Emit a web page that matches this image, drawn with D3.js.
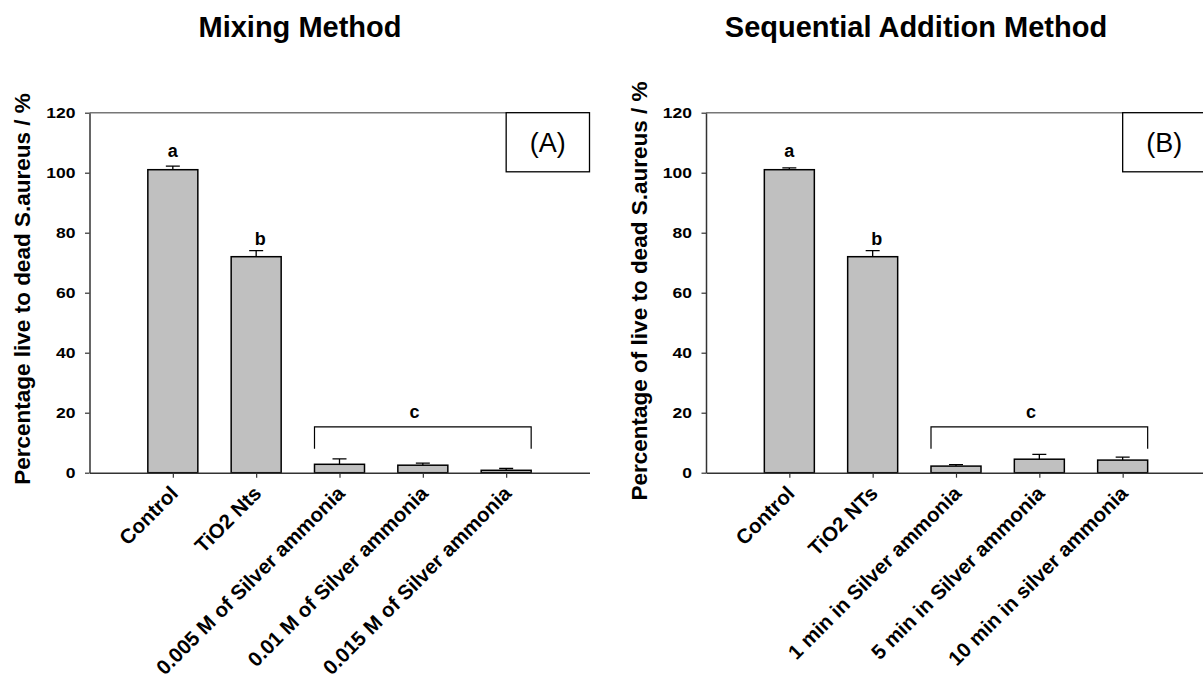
<!DOCTYPE html>
<html>
<head>
<meta charset="utf-8">
<script src="https://cdn.jsdelivr.net/npm/d3@7"></script>
<style>
  body { margin: 0; background: #fff; }
  svg { display: block; font-family: Arial, "Liberation Sans", sans-serif; }
</style>
</head>
<body>
<div id="chart"></div>
<script>
// data
var yTicks = [0, 20, 40, 60, 80, 100, 120];

var mixingTitle = "Mixing Method";
var mixingYLabel = "Percentage live to dead S.aureus / %";
var mixingCats = ["Control", "TiO2 Nts", "0.005 M of Silver ammonia", "0.01 M of Silver ammonia", "0.015 M of Silver ammonia"];
var mixingMeans = [101, 72, 2.8, 2.5, 0.8];
var mixingErrors = [1.2, 2.0, 1.8, 0.7, 0.6];

var seqTitle = "Sequential Addition Method";
var seqYLabel = "Percentage of live to dead S.aureus / %";
var seqCats = ["Control", "TiO2 NTs", "1 min in Silver ammonia", "5 min in Silver ammonia", "10 min in silver ammonia"];
var seqMeans = [101, 72, 2.2, 4.5, 4.2];
var seqErrors = [0.6, 2.0, 0.5, 1.6, 1.0];

var groupLetters = ["a", "b", "c"];

var svgWidth = 1203;
var svgHeight = 678;
var chartWidth = 500;
var chartHeight = 360;

var svg = d3.select("#chart").append("svg")
    .attr("width", svgWidth)
    .attr("height", svgHeight);

function drawPanel(opts) {
    var g = svg.append("g")
        .attr("transform", `translate(${opts.left},${opts.top})`);

    var x = d3.scaleLinear().domain([0, 6]).range([0, chartWidth]);
    var y = d3.scaleLinear().domain([0, 120]).range([chartHeight, 0]);
    var bw = x(0.6) - x(0);

    // title
    svg.append("text")
        .attr("x", opts.titleX)
        .attr("y", 36.5)
        .attr("text-anchor", "middle")
        .attr("font-size", 29)
        .attr("font-weight", "bold")
        .text(opts.title);

    // y label
    svg.append("text")
        .attr("transform", `translate(${opts.yLabelX},${opts.yLabelY}) rotate(-90)`)
        .attr("text-anchor", "middle")
        .attr("font-size", 22.5)
        .attr("font-weight", "bold")
        .text(opts.yLabel);

    // top frame line
    g.append("line")
        .attr("x1", x(0)).attr("x2", x(6))
        .attr("y1", y(120)).attr("y2", y(120))
        .attr("stroke", "#777").attr("stroke-width", 1.5);

    // bars
    var idx = d3.range(opts.means.length);
    g.selectAll(".bar")
        .data(idx)
        .enter()
        .append("rect")
        .attr("x", i => x(i + 1) - bw / 2)
        .attr("y", i => y(opts.means[i]))
        .attr("width", bw)
        .attr("height", i => y(0) - y(opts.means[i]))
        .attr("fill", "#c0c0c0")
        .attr("stroke", "#000")
        .attr("stroke-width", 1.5);

    // error bars (upper only)
    g.selectAll(".err")
        .data(idx)
        .enter()
        .append("path")
        .attr("d", i => {
            var cx = x(i + 1), y0 = y(opts.means[i]), y1 = y(opts.means[i] + opts.errors[i]);
            return `M${cx},${y0}V${y1}M${cx - 7},${y1}H${cx + 7}`;
        })
        .attr("fill", "none")
        .attr("stroke", "#000")
        .attr("stroke-width", 1.3);

    // x axis
    var bottomAxis = d3.axisBottom(x)
        .tickValues([1, 2, 3, 4, 5])
        .tickSize(5)
        .tickSizeOuter(0)
        .tickFormat((d, i) => opts.cats[i]);
    var xAxis = g.append("g")
        .attr("transform", `translate(0,${chartHeight})`)
        .call(bottomAxis);
    xAxis.select(".domain").attr("stroke", "#333").attr("stroke-width", 1.5);
    xAxis.selectAll(".tick line").attr("stroke", "#333").attr("stroke-width", 1.2);
    xAxis.selectAll(".tick text")
        .attr("x", 0).attr("y", 0).attr("dy", 0)
        .attr("text-anchor", "end")
        .attr("transform", "translate(6,22) rotate(-45)")
        .attr("fill", "#000")
        .attr("font-size", 20.5)
        .attr("font-weight", "bold")
        .attr("font-family", "Arial, 'Liberation Sans', sans-serif");

    // y axis, labels drawn separately (the figure draws them wide)
    var leftAxis = d3.axisLeft(y)
        .tickValues(yTicks)
        .tickSize(4.5)
        .tickSizeOuter(0)
        .tickFormat("");
    var yAxis = g.append("g").call(leftAxis);
    yAxis.select(".domain").attr("stroke", "#333").attr("stroke-width", 1.5);
    yAxis.selectAll(".tick line").attr("stroke", "#333").attr("stroke-width", 1.2);

    g.selectAll(".ylab")
        .data(yTicks)
        .enter()
        .append("text")
        .attr("transform", d => `translate(-14,${y(d) + 5}) scale(1.25,1)`)
        .attr("text-anchor", "end")
        .attr("font-size", 14)
        .attr("font-weight", "bold")
        .attr("fill", "#000")
        .text(d => d);

    // bracket for group c
    g.append("path")
        .attr("d", `M${x(2.7)},${y(8)}V${y(15.3)}H${x(5.3)}V${y(8)}`)
        .attr("fill", "none")
        .attr("stroke", "#000")
        .attr("stroke-width", 1.2);

    // significance letters
    var letterPos = [[1.0, 105.3], [2.05, 75.9], [3.9, 18.2]];
    g.selectAll(".letter")
        .data(groupLetters)
        .enter()
        .append("text")
        .attr("x", (d, i) => x(letterPos[i][0]))
        .attr("y", (d, i) => y(letterPos[i][1]))
        .attr("text-anchor", "middle")
        .attr("font-size", 18)
        .attr("font-weight", "bold")
        .text(d => d);

    // panel tag box
    g.append("rect")
        .attr("x", x(5))
        .attr("y", y(120))
        .attr("width", x(6) - x(5))
        .attr("height", y(100.3) - y(120))
        .attr("fill", "#fff")
        .attr("stroke", "#000")
        .attr("stroke-width", 1.3);
    g.append("text")
        .attr("x", x(5.5))
        .attr("y", y(107))
        .attr("text-anchor", "middle")
        .attr("font-size", 27)
        .text(opts.tag);
}

drawPanel({
    left: 89.5, top: 112.7, titleX: 300,
    title: mixingTitle, yLabel: mixingYLabel, yLabelX: 30, yLabelY: 289,
    cats: mixingCats, means: mixingMeans, errors: mixingErrors, tag: "(A)"
});

drawPanel({
    left: 706, top: 112.7, titleX: 916,
    title: seqTitle, yLabel: seqYLabel, yLabelX: 647, yLabelY: 291,
    cats: seqCats, means: seqMeans, errors: seqErrors, tag: "(B)"
});
</script>
</body>
</html>
